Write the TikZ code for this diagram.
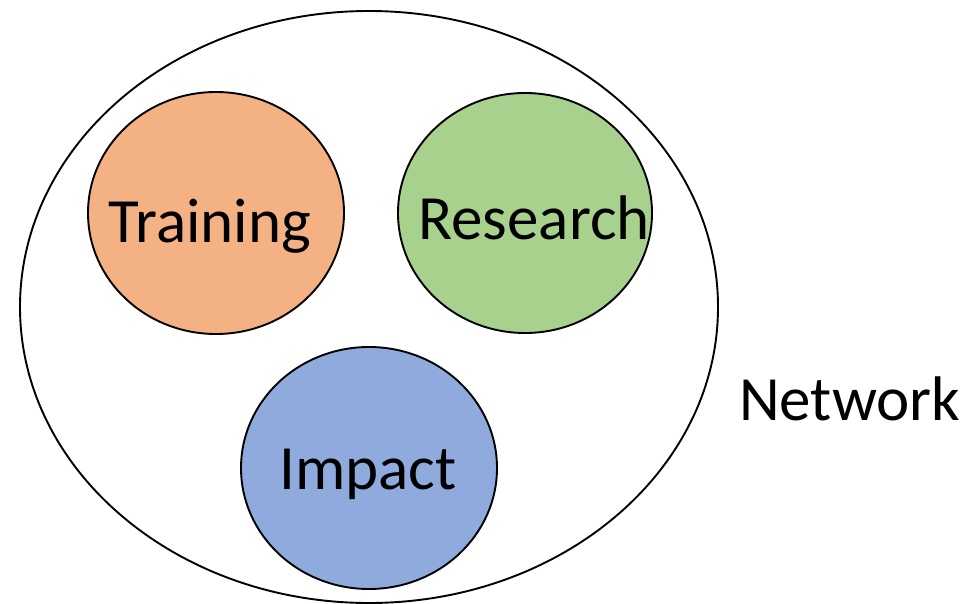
\documentclass[tikz,border=0pt]{standalone}
\usepackage{fontspec}
\setmainfont{Carlito}
\usetikzlibrary{shapes.geometric}
\begin{document}
\begin{tikzpicture}[x=1pt,y=-1pt,
  blob/.style={ellipse,draw=black,line width=1.9pt,inner sep=0pt},
  lbl/.style={font=\fontsize{63}{63}\selectfont,anchor=base,inner sep=0pt}]
\useasboundingbox (0,0) rectangle (966,604);
\node[blob,minimum width=698pt,minimum height=592pt] (net) at (369,307) {};
\node[blob,fill={rgb,255:red,244;green,177;blue,131},minimum width=256pt,minimum height=242pt] (train) at (216,213) {};
\node[blob,fill={rgb,255:red,169;green,209;blue,142},minimum width=254pt,minimum height=240pt] (res) at (525,213) {};
\node[blob,fill={rgb,255:red,143;green,170;blue,220},minimum width=256pt,minimum height=242pt] (imp) at (369,468) {};
\node[lbl] (tl) at (210,242) {Training};
\node[lbl] (rl) at (534,240) {Research};
\node[lbl] (il) at (368,489) {Impact};
\node[lbl,anchor=base west] (nl) at (739,420) {Network};
\end{tikzpicture}
\end{document}
